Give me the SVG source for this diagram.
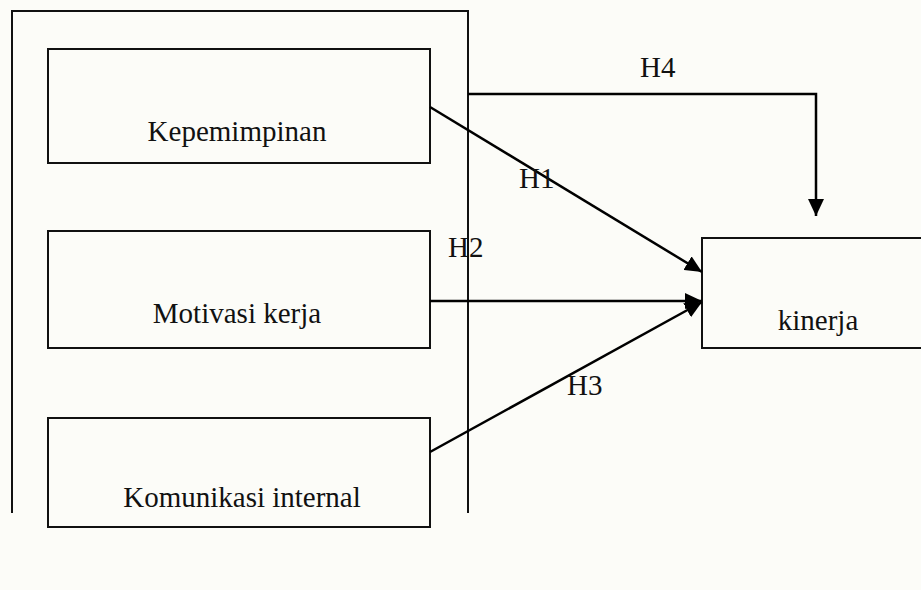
<svg xmlns="http://www.w3.org/2000/svg" width="921" height="590" viewBox="0 0 921 590">
<style>
.box{fill:none;stroke:#111;stroke-width:2}
.ln{fill:none;stroke:#000;stroke-width:2.5}
.t{font-family:"Liberation Serif","Times New Roman",serif;font-size:29px;fill:#111}
</style>
<defs>
<marker id="ah" markerUnits="userSpaceOnUse" markerWidth="18" markerHeight="16" viewBox="0 0 18 16" refX="17" refY="8" orient="auto">
<path d="M0,0 L17,8 L0,16 Z" fill="#000"/>
</marker>
</defs>
<rect width="921" height="590" fill="#fcfcf8"/>
<g id="frame"><path class="box" d="M12,513 V11 H468 V513"/></g>
<g id="kepemimpinan"><rect class="box" x="48" y="49" width="382" height="114"/><text class="t" x="237" y="141" text-anchor="middle">Kepemimpinan</text></g>
<g id="motivasi"><rect class="box" x="48" y="231" width="382" height="117"/><text class="t" x="237" y="323" text-anchor="middle">Motivasi kerja</text></g>
<g id="komunikasi"><rect class="box" x="48" y="418" width="382" height="109"/><text class="t" x="242" y="507" text-anchor="middle">Komunikasi internal</text></g>
<g id="kinerja"><rect class="box" x="702" y="238" width="240" height="110"/><text class="t" x="818" y="330" text-anchor="middle">kinerja</text></g>
<g id="connectors">
<path class="ln" d="M468,94 H816 V216" marker-end="url(#ah)"/>
<path class="ln" d="M430,107 L702,272" marker-end="url(#ah)"/>
<path class="ln" d="M430,301 H702" marker-end="url(#ah)"/>
<path class="ln" d="M430,452 L702,302" marker-end="url(#ah)"/>
<text class="t" x="640" y="77">H4</text>
<text class="t" x="519" y="188">H1</text>
<text class="t" x="448" y="257">H2</text>
<text class="t" x="567" y="395">H3</text>
</g>
</svg>
